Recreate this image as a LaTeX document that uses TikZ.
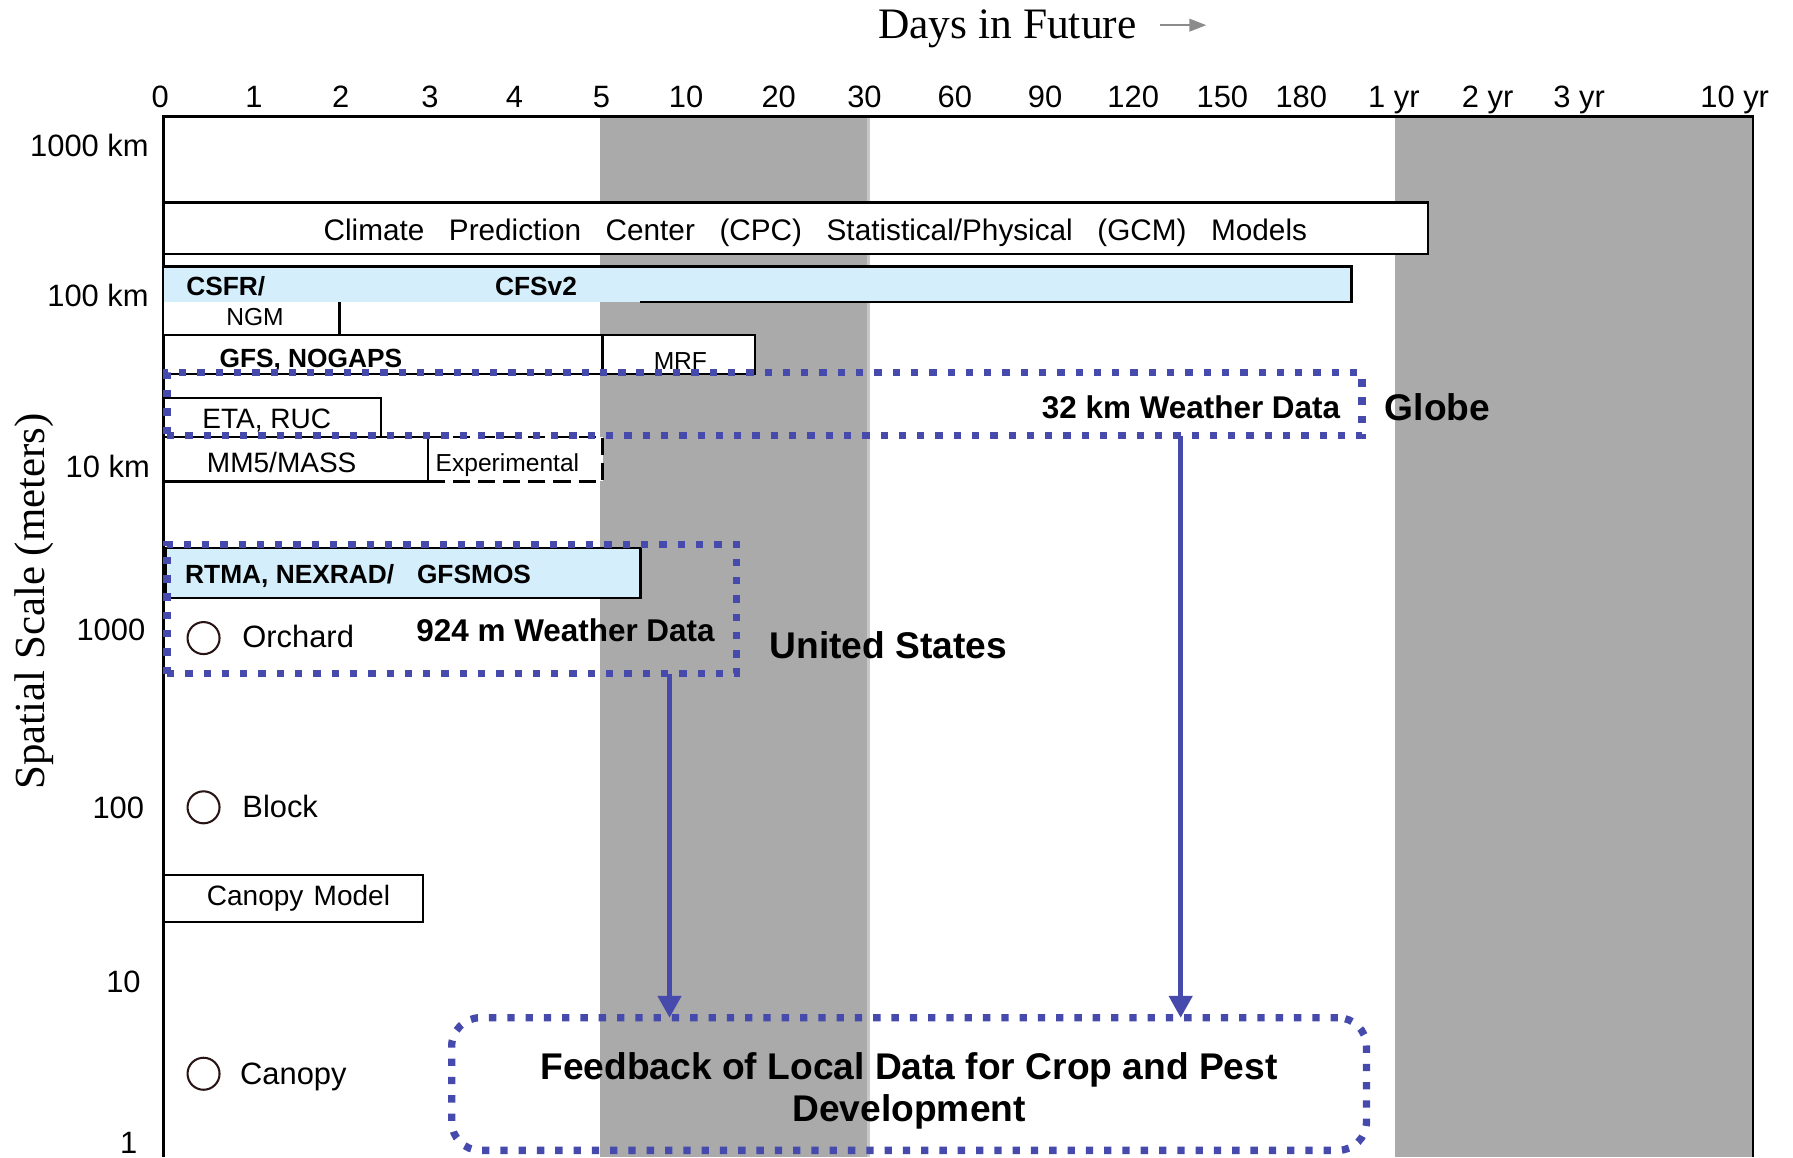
\documentclass[tikz,border=0pt]{standalone}
\usepackage{fontspec}
\setmainfont{Liberation Sans}
\newfontfamily\titlefont{Liberation Serif}
\usetikzlibrary{arrows.meta}

\definecolor{bandgray}{RGB}{170,170,170}
\definecolor{bandedge}{RGB}{200,200,200}
\definecolor{skyfill}{RGB}{212,238,252}
\definecolor{dotblue}{RGB}{70,74,172}
\definecolor{ringcol}{RGB}{40,20,20}
\definecolor{arrowgray}{RGB}{140,140,140}

\begin{document}
\begin{tikzpicture}[x={(1pt,0pt)}, y={(0pt,-1pt)},
  every node/.style={inner sep=0pt, outer sep=0pt},
  box/.style={rectangle, draw=black, line width=2pt, fill=white, anchor=north west},
  bare/.style={rectangle, anchor=north west},
  lbl/.style={font=\fontsize{27}{30}\selectfont},
  lblmid/.style={font=\fontsize{24.5}{28}\selectfont},
  lblsmall/.style={font=\fontsize{21.5}{25}\selectfont},
  txtbold/.style={font=\bfseries\fontsize{23}{27}\selectfont},
  txtboldmid/.style={font=\bfseries\fontsize{27.5}{31}\selectfont},
  txtboldbig/.style={font=\bfseries\fontsize{32.5}{37}\selectfont},
  dotbox/.style={rectangle, draw=dotblue, line width=6.4pt, dash pattern=on 6.4pt off 9.6pt},
  flow/.style={draw=dotblue, line width=4pt, -{Triangle[length=19pt,width=20pt]}},
  ring/.style={circle, draw=ringcol, line width=1.8pt, minimum size=28pt},
  edge/.style={line width=2pt},
]
\useasboundingbox (0,0) rectangle (1568,1012);
\clip (0,0) rectangle (1568,1012);

% shaded time bands
\fill[bandgray] (525,102) rectangle (758,1012);
\fill[bandedge] (758,102) rectangle (761,1012);
\fill[bandgray] (1220,102) rectangle (1533,1012);

% chart frame
\draw[edge] (143,1012) -- (143,102) -- (1533,102) -- (1533,1012);

% title with gray arrow
\node[font=\titlefont\fontsize{38}{40}\selectfont, anchor=base west] (title) at (768,34) {Days in Future};
\coordinate (tarrowA) at (1014,22);
\coordinate (tarrowB) at (1055,22);
\draw[arrowgray, line width=2pt, -{Triangle[length=15pt,width=11pt]}] (tarrowA) -- (tarrowB);

% vertical axis title
\node[font=\titlefont\fontsize{37.5}{40}\selectfont, rotate=90, anchor=base] (ylab) at (39,526) {Spatial Scale (meters)};

% time ticks
\foreach \lab/\xx [count=\i] in {0/140, 1/222, 2/298, 3/376, 4/450, 5/526, 10/600, 20/681, 30/756,
    60/835, 90/914, 120/991, 150/1069, 180/1138, 1 yr/1219, 2 yr/1301, 3 yr/1381, 10 yr/1517}
  \node[lbl, anchor=base] (tick\i) at (\xx,94) {\lab};

% spatial ticks
\node[lbl, anchor=base east] (s1) at (130,137) {1000 km};
\node[lbl, anchor=base east] (s2) at (130,268) {100 km};
\node[lbl, anchor=base east] (s3) at (131,418) {10 km};
\node[lbl, anchor=base east] (s4) at (127,560) {1000};
\node[lbl, anchor=base east] (s5) at (126,716) {100};
\node[lbl, anchor=base east] (s6) at (123,868) {10};
\node[lbl, anchor=base east] (s7) at (120,1009) {1};

% CPC models
\node[box, minimum width=1106pt, minimum height=45pt] (cpc) at (143,177) {};
\node[font=\fontsize{26}{30}\selectfont, anchor=base west] (cpctext) at (283,210)
  {Climate\hspace{21.5pt}Prediction\hspace{21.5pt}Center\hspace{21.5pt}(CPC)\hspace{21.5pt}Statistical/Physical\hspace{21.5pt}(GCM)\hspace{21.5pt}Models};

% CSFR / CFSv2
\node[bare, fill=skyfill, minimum width=1039pt, minimum height=31pt] (cfs) at (143,233) {};
\coordinate (cfscut) at (560,0);
\draw[edge] (cfs.south -| cfscut) -- (cfs.south east) -- (cfs.north east) -- (cfs.north west);
\node[txtbold, anchor=base west] (csfrtext) at (163,258) {CSFR/};
\node[txtbold, anchor=base west] (cfstext) at (433,258) {CFSv2};

% NGM
\node[bare, fill=white, minimum width=154pt, minimum height=30pt] (ngm) at (143,264) {};
\draw[edge] (ngm.north east) -- (ngm.south east) -- (ngm.south west);
\node[lblsmall, anchor=base] (ngmtext) at (223,285) {NGM};

% GFS, NOGAPS and MRF
\node[box, minimum width=384pt, minimum height=34pt] (gfs) at (143,293) {};
\node[box, minimum width=133pt, minimum height=34pt] (mrf) at (527,293) {};
\node[txtbold, anchor=base west] (gfstext) at (192,321) {GFS, NOGAPS};
\node[lblsmall, anchor=base] (mrftext) at (595,323) {MRF};

% ETA, RUC
\node[box, minimum width=190pt, minimum height=34pt] (eta) at (143,348) {};
\node[lblmid, anchor=base west] (etatext) at (177,375) {ETA, RUC};

% MM5/MASS and Experimental
\node[box, dash pattern=on 15pt off 7pt, minimum width=153pt, minimum height=39pt] (expt) at (374,382) {};
\node[box, minimum width=231pt, minimum height=39pt] (mm5) at (143,382) {};
\node[lblmid, anchor=base west] (mm5text) at (181,413) {MM5/MASS};
\node[lblsmall, anchor=base west] (expttext) at (381,412) {Experimental};

% RTMA, NEXRAD / GFSMOS
\node[box, fill=skyfill, minimum width=415pt, minimum height=44pt] (rtma) at (145,479) {};
\node[txtbold, anchor=base west] (rtmatext) at (162,510) {RTMA, NEXRAD/\hspace{20pt}GFSMOS};

% Canopy model
\node[box, minimum width=227pt, minimum height=41pt] (cmodel) at (143,765) {};
\node[lblmid, anchor=base] (cmodeltext) at (261,792) {Canopy\hspace{9pt}Model};

% spatial levels
\node[ring] (orchard) at (178,558) {};
\node[lbl, anchor=base west] (orchardtext) at (212,566) {Orchard};
\node[ring] (block) at (178,706) {};
\node[lbl, anchor=base west] (blocktext) at (212,715) {Block};
\node[ring] (canopy) at (178,939) {};
\node[lbl, anchor=base west] (canopytext) at (210,948) {Canopy};

% weather data regions
\node[dotbox, minimum width=1045pt, minimum height=55pt, anchor=north west] (globebox) at (146,326) {};
\node[txtboldmid, anchor=base east] (globedata) at (1172,366) {32 km Weather Data};
\node[txtboldbig, anchor=base west] (globe) at (1211,367.5) {Globe};

\node[dotbox, minimum width=498pt, minimum height=113pt, anchor=north west] (usbox) at (146,476) {};
\node[txtboldmid, anchor=base east] (usdata) at (625,561) {924 m Weather Data};
\node[txtboldbig, anchor=base west] (us) at (673,575.5) {United States};

% feedback target
\node[dotbox, rounded corners=25pt, minimum width=800pt, minimum height=116pt] (feedback) at (795,948) {};
\node[txtboldbig, align=center, anchor=base] (feedbacktext) at (795,981)
  {Feedback of Local Data for Crop and Pest\\Development};

% feedback arrows
\coordinate (xa) at (585.5,0);
\coordinate (xb) at (1032.5,0);
\draw[flow] (usbox.south -| xa) -- (feedback.north -| xa);
\draw[flow] (globebox.south -| xb) -- (feedback.north -| xb);

\end{tikzpicture}
\end{document}
